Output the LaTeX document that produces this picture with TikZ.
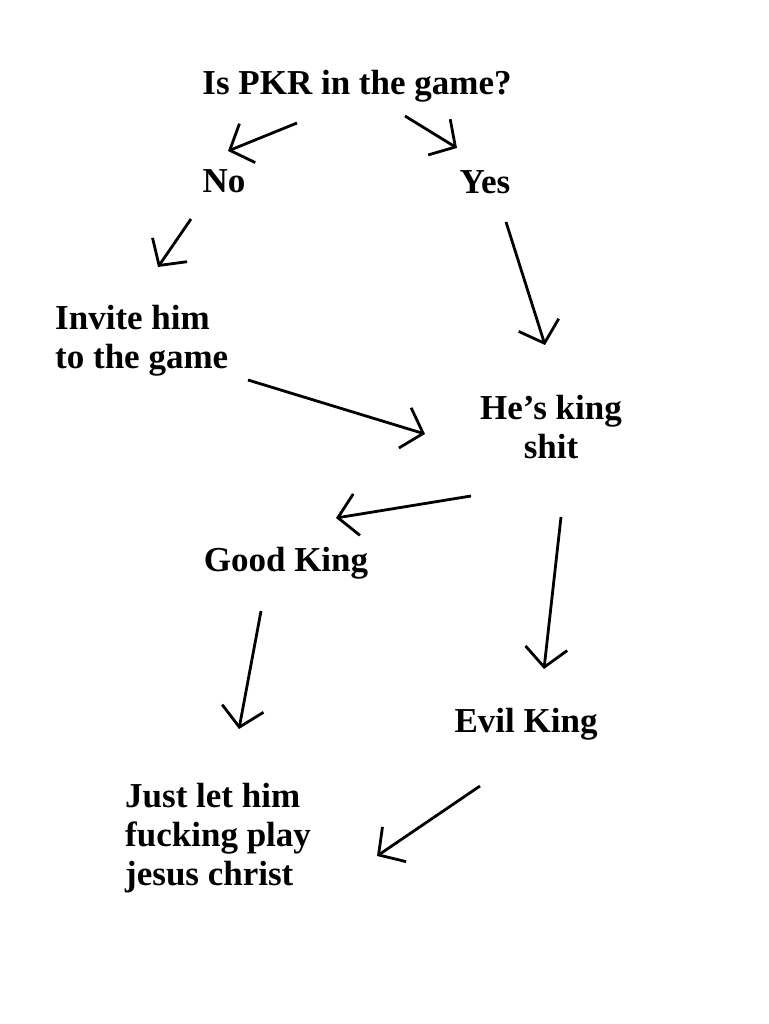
\documentclass[tikz,border=0pt]{standalone}
\usepackage{fontspec}
\setmainfont{Liberation Serif}
\usetikzlibrary{arrows.meta}

\begin{document}
\begin{tikzpicture}[x=1pt,y=-1pt]
\tikzset{t/.style={inner sep=0pt,font=\fontsize{35}{39}\selectfont\bfseries},
    a/.style={line width=2.8pt,-{Straight Barb[length=19pt,width=42pt]}}}
\useasboundingbox[fill=white] (0,0) rectangle (768,1024);
\node[t,anchor=base] (pkr) at (357,95) {Is PKR in the game?};
\node[t,anchor=base] (no) at (224,193) {No};
\node[t,anchor=base] (yes) at (485,194) {Yes};
\node[t,anchor=north west,align=left] (invite) at (55,305) {Invite him\\to the game};
\node[t,anchor=north,align=center] (king) at (551,395) {He’s king\\shit};
\node[t,anchor=base] (good) at (286,571) {Good King};
\node[t,anchor=base] (evil) at (526,732) {Evil King};
\node[t,anchor=north west,align=left] (play) at (125,783) {Just let him\\fucking play\\jesus christ};
% arrow ends
\coordinate (pkrL) at (297,123); \coordinate (noT) at (228,151);
\coordinate (pkrR) at (405,116); \coordinate (yesT) at (457,148);
\coordinate (noB) at (191,219); \coordinate (inviteT) at (158,267);
\coordinate (yesB) at (506,222); \coordinate (kingT) at (545,345);
\coordinate (inviteR) at (248,380); \coordinate (kingL) at (425,434);
\coordinate (kingBL) at (471,496); \coordinate (goodT) at (336,518);
\coordinate (kingB) at (561,517); \coordinate (evilT) at (544,669);
\coordinate (goodB) at (261,611); \coordinate (playT) at (239,729);
\coordinate (evilB) at (480,786); \coordinate (playR) at (377,856);
\draw[a] (pkrL) -- (noT);
\draw[a] (pkrR) -- (yesT);
\draw[a] (noB) -- (inviteT);
\draw[a] (yesB) -- (kingT);
\draw[a] (inviteR) -- (kingL);
\draw[a] (kingBL) -- (goodT);
\draw[a] (kingB) -- (evilT);
\draw[a] (goodB) -- (playT);
\draw[a] (evilB) -- (playR);
\end{tikzpicture}
\end{document}
